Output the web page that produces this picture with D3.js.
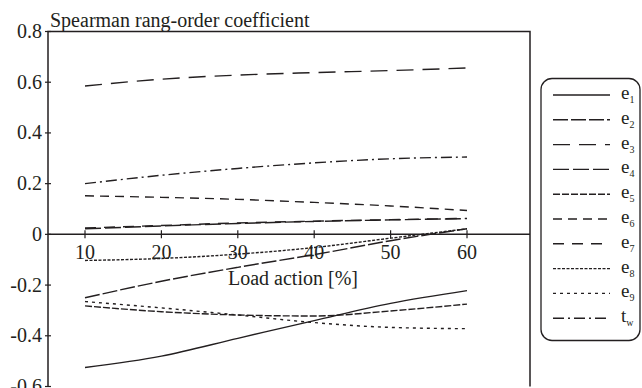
<!DOCTYPE html>
<html>
<head>
<meta charset="utf-8">
<script src="https://cdn.jsdelivr.net/npm/d3@7"></script>
<style>
  body { margin: 0; background: #fff; }
  svg { display: block; }
</style>
</head>
<body>
<svg id="chart" width="642" height="388" font-family="'Liberation Serif', 'DejaVu Serif', serif"></svg>
<script>
// Load action levels (%)
const loads = [10, 20, 30, 40, 50, 60];

// Spearman rank-order coefficients per parameter
const e1 = [-0.525, -0.48, -0.41, -0.34, -0.272, -0.222];
const e2 = [-0.25, -0.185, -0.13, -0.08, -0.025, 0.022];
const e3 = [0.585, 0.612, 0.628, 0.638, 0.646, 0.656];
const e4 = [0.022, 0.033, 0.043, 0.051, 0.057, 0.062];
const e5 = [-0.282, -0.305, -0.318, -0.322, -0.302, -0.275];
const e6 = [0.152, 0.146, 0.138, 0.126, 0.112, 0.094];
const e7 = [0.025, 0.035, 0.045, 0.052, 0.058, 0.063];
const e8 = [-0.103, -0.095, -0.078, -0.052, -0.015, 0.022];
const e9 = [-0.265, -0.29, -0.318, -0.348, -0.367, -0.372];
const tw = [0.20, 0.233, 0.26, 0.282, 0.298, 0.305];

const seriesNames = ["e1", "e2", "e3", "e4", "e5", "e6", "e7", "e8", "e9", "tw"];
const seriesValues = [e1, e2, e3, e4, e5, e6, e7, e8, e9, tw];
const dashes = ["none", "15,3", "17,9", "16,4", "7,2", "9,6", "11,8", "3,1.5", "3,4", "11,4,2,4"];

const yTicks = [-0.6, -0.4, -0.2, 0, 0.2, 0.4, 0.6, 0.8];
const xTicks = [10, 20, 30, 40, 50, 60];

const svg = d3.select("#chart");
const box = { left: 48, right: 530, top: 31.5, bottom: 386.5 };

const x = d3.scaleLinear().domain([10, 60]).range([85, 467]);
const y = d3.scaleLinear().domain([-0.6, 0.8]).range([box.bottom, box.top]);

const ink = "#231f20";
const serif = "'Liberation Serif', 'DejaVu Serif', serif";
const fs = 20;

// frame: left axis, top border, right border
svg.append("path")
  .attr("d", `M${box.right},${box.bottom}V${box.top}H${box.left}V${box.bottom}`)
  .attr("fill", "none").attr("stroke", ink).attr("stroke-width", 1.5);

// y ticks (crossing marks) and labels
const yg = svg.append("g");
yTicks.forEach(v => {
  yg.append("line")
    .attr("x1", box.left - 3).attr("x2", box.left + 3)
    .attr("y1", y(v)).attr("y2", y(v))
    .attr("stroke", ink).attr("stroke-width", 1.2);
  yg.append("text")
    .attr("x", box.left - 6).attr("y", y(v) + 6.5)
    .attr("text-anchor", "end").attr("font-size", fs)
    .attr("font-family", serif).attr("fill", ink)
    .text(v === 0 ? "0" : (v < 0 ? "-" + d3.format(".1f")(-v) : d3.format(".1f")(v)));
});

// zero line acting as x axis
svg.append("line")
  .attr("x1", box.left).attr("x2", box.right)
  .attr("y1", y(0)).attr("y2", y(0))
  .attr("stroke", ink).attr("stroke-width", 1.5);

const xg = svg.append("g");
xTicks.forEach(v => {
  xg.append("line")
    .attr("x1", x(v)).attr("x2", x(v))
    .attr("y1", y(0) - 4).attr("y2", y(0) + 4)
    .attr("stroke", ink).attr("stroke-width", 1.2);
  xg.append("text")
    .attr("x", x(v)).attr("y", y(0) + 24.5)
    .attr("text-anchor", "middle").attr("font-size", fs)
    .attr("font-family", serif).attr("fill", ink)
    .text(v);
});

svg.append("text")
  .attr("x", 293).attr("y", 285)
  .attr("text-anchor", "middle").attr("font-size", fs)
  .attr("font-family", serif).attr("fill", ink)
  .text("Load action [%]");

svg.append("text")
  .attr("x", 50).attr("y", 26.5)
  .attr("font-size", fs)
  .attr("font-family", serif).attr("fill", ink)
  .text("Spearman rang-order coefficient");

// series curves
const line = d3.line()
  .x((d, i) => x(loads[i]))
  .y(d => y(d))
  .curve(d3.curveMonotoneX);

svg.append("g").selectAll("path")
  .data(seriesValues)
  .join("path")
  .attr("d", d => line(d))
  .attr("fill", "none")
  .attr("stroke", ink)
  .attr("stroke-width", 1.4)
  .attr("stroke-dasharray", (d, i) => dashes[i]);

// legend
const lg = svg.append("g");
lg.append("rect")
  .attr("x", 541).attr("y", 78.5)
  .attr("width", 99).attr("height", 262)
  .attr("rx", 11).attr("ry", 11)
  .attr("fill", "#fff").attr("stroke", ink).attr("stroke-width", 1.3);

seriesNames.forEach((name, i) => {
  const ly = 95 + i * 24.8;
  lg.append("line")
    .attr("x1", 553).attr("x2", 610)
    .attr("y1", ly).attr("y2", ly)
    .attr("stroke", ink).attr("stroke-width", 1.4)
    .attr("stroke-dasharray", dashes[i]);
  const t = lg.append("text")
    .attr("x", 621).attr("y", ly + 4)
    .attr("font-size", 19)
    .attr("font-family", serif).attr("fill", ink);
  t.append("tspan").text(name[0]);
  t.append("tspan")
    .attr("font-size", 10).attr("dy", 4)
    .text(name.slice(1));
});
</script>
</body>
</html>
